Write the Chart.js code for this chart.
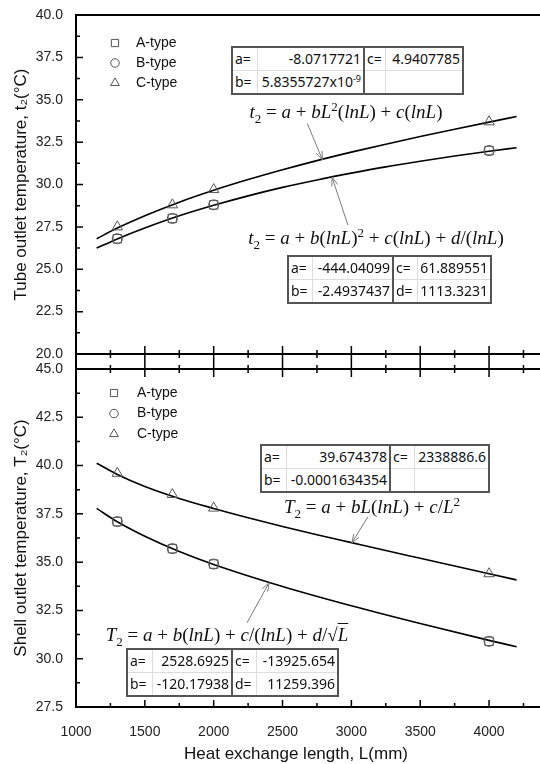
<!DOCTYPE html>
<html>
<head>
<meta charset="utf-8">
<script src="https://cdn.jsdelivr.net/npm/chart.js@4.4.1/dist/chart.umd.min.js"></script>
<style>
  html, body { margin: 0; padding: 0; background: #fff; }
  #wrap { position: relative; width: 540px; height: 764px; overflow: hidden; }
  canvas { position: absolute; left: 0; }
  #tube { top: 0; }
  #shell { top: 361px; }
  .tbl { position: absolute; border-collapse: collapse; table-layout: fixed; border: 2px solid #555;
         font-family: "Noto Sans", sans-serif; font-size: 14px; color: #111; background: #fff; z-index: 2; }
  .tbl td { border: 1px solid #dcdcdc; height: 22px; padding: 0 2px; white-space: nowrap; overflow: hidden; line-height: 22px; }
  .tbl td.v { text-align: right; }
  .tbl td.mid { border-right: 2px solid #555; }
  .tbl sup { font-size: 9px; line-height: 0; vertical-align: 5px; }
  .eq { position: absolute; font-family: "Liberation Serif", serif; font-size: 19px; white-space: nowrap;
        transform: translate(-50%, -50%); color: #111; z-index: 2; }
  .eq sub, .eq sup { font-size: 13px; line-height: 0; }
  .ov { text-decoration: overline; }
</style>
</head>
<body>
<div id="wrap">
  <canvas id="tube" width="540" height="364"></canvas>
  <canvas id="shell" width="540" height="403"></canvas>

  <table class="tbl" style="left:231px;top:46px;width:231px">
    <colgroup><col style="width:25px"><col style="width:107px"><col style="width:21px"><col style="width:78px"></colgroup>
    <tr><td>a=</td><td class="v mid">-8.0717721</td><td>c=</td><td class="v">4.9407785</td></tr>
    <tr><td>b=</td><td class="v mid">5.8355727x10<sup>-9</sup></td><td></td><td></td></tr>
  </table>
  <div class="eq" style="left:346px;top:112px"><i>t</i><sub>2</sub> = <i>a</i> + <i>bL</i><sup>2</sup>(<i>lnL</i>) + <i>c</i>(<i>lnL</i>)</div>

  <div class="eq" style="left:376px;top:238px"><i>t</i><sub>2</sub> = <i>a</i> + <i>b</i>(<i>lnL</i>)<sup>2</sup> + <i>c</i>(<i>lnL</i>) + <i>d</i>/(<i>lnL</i>)</div>
  <table class="tbl" style="left:287px;top:255px;width:203px">
    <colgroup><col style="width:24px"><col style="width:81px"><col style="width:24px"><col style="width:74px"></colgroup>
    <tr><td>a=</td><td class="v mid">-444.04099</td><td>c=</td><td class="v">61.889551</td></tr>
    <tr><td>b=</td><td class="v mid">-2.4937437</td><td>d=</td><td class="v">1113.3231</td></tr>
  </table>

  <table class="tbl" style="left:260px;top:444px;width:228px">
    <colgroup><col style="width:25px"><col style="width:104px"><col style="width:24px"><col style="width:75px"></colgroup>
    <tr><td>a=</td><td class="v mid">39.674378</td><td>c=</td><td class="v">2338886.6</td></tr>
    <tr><td>b=</td><td class="v mid">-0.0001634354</td><td></td><td></td></tr>
  </table>
  <div class="eq" style="left:372px;top:507px"><i>T</i><sub>2</sub> = <i>a</i> + <i>bL</i>(<i>lnL</i>) + <i>c</i>/<i>L</i><sup>2</sup></div>

  <div class="eq" style="left:227px;top:635px"><i>T</i><sub>2</sub> = <i>a</i> + <i>b</i>(<i>lnL</i>) + <i>c</i>/(<i>lnL</i>) + <i>d</i>/√<span class="ov"><i>L</i></span></div>
  <table class="tbl" style="left:126px;top:648px;width:211px">
    <colgroup><col style="width:25px"><col style="width:80px"><col style="width:24px"><col style="width:82px"></colgroup>
    <tr><td>a=</td><td class="v mid">2528.6925</td><td>c=</td><td class="v">-13925.654</td></tr>
    <tr><td>b=</td><td class="v mid">-120.17938</td><td>d=</td><td class="v">11259.396</td></tr>
  </table>
</div>

<script>
// measured points
const lengths = [1300, 1700, 2000, 4000];
const tubeA = [26.8, 28.0, 28.8, 32.0];
const tubeB = [26.8, 28.0, 28.8, 32.0];
const tubeC = [27.5, 28.8, 29.7, 33.7];
const shellA = [37.1, 35.7, 34.9, 30.9];
const shellB = [37.1, 35.7, 34.9, 30.9];
const shellC = [39.6, 38.5, 37.8, 34.4];

// fitted curves
const fitL = [1150, 1300, 1500, 1750, 2000, 2250, 2500, 2750, 3000, 3250, 3500, 3750, 4000, 4200];
const tubeFitC = [26.80, 27.43, 28.16, 28.96, 29.66, 30.29, 30.87, 31.41, 31.91, 32.38, 32.83, 33.26, 33.68, 34.01];
const tubeFitAB = [26.25, 26.79, 27.43, 28.15, 28.77, 29.33, 29.83, 30.27, 30.67, 31.04, 31.37, 31.68, 31.96, 32.17];
const shellFitC = [40.12, 39.54, 38.92, 38.30, 37.78, 37.30, 36.85, 36.42, 36.01, 35.60, 35.20, 34.80, 34.40, 34.08];
const shellFitL = [1150, 1300, 1500, 1750, 2000, 2500, 3000, 3500, 4000, 4200];
const shellFitAB = [37.78, 37.09, 36.34, 35.55, 34.88, 33.74, 32.74, 31.82, 30.95, 30.62];

// axis ticks
const lengthTicks = [1000, 1500, 2000, 2500, 3000, 3500, 4000];
const tubeTicks = [20, 22.5, 25, 27.5, 30, 32.5, 35, 37.5, 40];
const shellTicks = [27.5, 30, 32.5, 35, 37.5, 40, 42.5, 45];
const typeNames = ["A-type", "B-type", "C-type"];

Chart.defaults.font.family = '"Liberation Sans", Arial, sans-serif';
Chart.defaults.font.size = 14;
Chart.defaults.color = "#222";

function pts(xs, ys) {
  return xs.map(function (x, i) { return { x: x, y: ys[i] }; });
}

function markers(label, style, r, xs, ys) {
  return {
    label: label, data: pts(xs, ys), showLine: false,
    pointStyle: style, pointRadius: r, pointHoverRadius: r,
    pointBorderColor: "#555", pointBackgroundColor: "rgba(0,0,0,0)", pointBorderWidth: 1
  };
}

function curve(xs, ys) {
  return {
    label: "fit", data: pts(xs, ys), showLine: true, fill: false,
    borderColor: "#000", borderWidth: 1.6, pointRadius: 0,
    cubicInterpolationMode: "monotone"
  };
}

function yAxis(ticks, title) {
  return {
    type: "linear", position: "left", min: ticks[0], max: ticks[ticks.length - 1],
    afterBuildTicks: function (s) { s.ticks = ticks.map(function (v) { return { value: v }; }); },
    afterFit: function (s) { s.width = 76; s.paddingTop = 0; s.paddingBottom = 0; },
    grid: { display: false },
    border: { color: "#000", width: 2 },
    ticks: { padding: 5, color: "#222", callback: function (v) { return v.toFixed(1); } },
    title: { display: true, text: title, color: "#111", font: { size: 17 }, padding: { top: 11, bottom: 0 } }
  };
}

function xAxis(height, showLabels) {
  return {
    type: "linear", min: 1000, max: 4370,
    afterBuildTicks: function (s) { s.ticks = lengthTicks.map(function (v) { return { value: v }; }); },
    afterFit: function (s) { s.height = height; s.paddingLeft = 0; s.paddingRight = 0; },
    grid: { display: false },
    border: { color: "#000", width: 2 },
    ticks: { display: showLabels, padding: 9, color: "#222", callback: function (v) { return String(v); } }
  };
}

// ticks, broken axis, legend, arrows, x title
const decor = {
  id: "decor",
  afterDraw: function (chart, args, o) {
    const ctx = chart.ctx, a = chart.chartArea, x = chart.scales.x, y = chart.scales.y;
    const H = chart.height;
    ctx.save();
    ctx.strokeStyle = "#000";
    ctx.lineWidth = 1.5;
    ctx.beginPath();
    const yv = y.ticks.map(function (t) { return t.value; });
    yv.forEach(function (v, i) {
      const p = y.getPixelForValue(v);
      ctx.moveTo(a.left, p); ctx.lineTo(a.left + 7, p);
      if (i < yv.length - 1) {
        const m = y.getPixelForValue((v + yv[i + 1]) / 2);
        ctx.moveTo(a.left, m); ctx.lineTo(a.left + 4, m);
      }
    });
    const xv = x.ticks.map(function (t) { return t.value; });
    const step = xv[1] - xv[0];
    const minor = xv.map(function (v) { return v + step / 2; }).filter(function (v) { return v < x.max; });
    if (o.panel === "top") {
      xv.forEach(function (v) {
        const p = x.getPixelForValue(v);
        ctx.moveTo(p, a.bottom - 8); ctx.lineTo(p, a.bottom + 7);
      });
      minor.forEach(function (v) {
        const p = x.getPixelForValue(v);
        ctx.moveTo(p, a.bottom - 4); ctx.lineTo(p, a.bottom + 4);
      });
    } else {
      xv.forEach(function (v) {
        const p = x.getPixelForValue(v);
        ctx.moveTo(p, 0); ctx.lineTo(p, a.top + 8);
        ctx.moveTo(p, a.bottom); ctx.lineTo(p, a.bottom - 7);
      });
      minor.forEach(function (v) {
        const p = x.getPixelForValue(v);
        ctx.moveTo(p, a.top - 4); ctx.lineTo(p, a.top + 4);
        ctx.moveTo(p, a.bottom); ctx.lineTo(p, a.bottom - 4);
      });
    }
    ctx.stroke();

    // frame lines
    ctx.lineWidth = 2;
    ctx.beginPath();
    ctx.moveTo(a.left, a.top); ctx.lineTo(chart.width, a.top);
    if (o.panel === "top") { ctx.moveTo(a.left, a.bottom); ctx.lineTo(a.left, a.bottom + 7); }
    else { ctx.moveTo(a.left, 0); ctx.lineTo(a.left, a.top); }
    ctx.stroke();

    // arrows
    ctx.strokeStyle = "#7a7a7a";
    ctx.lineWidth = 1;
    o.arrows.forEach(function (ar) {
      const x0 = x.getPixelForValue(ar.from[0]), y0 = y.getPixelForValue(ar.from[1]);
      const x1 = x.getPixelForValue(ar.to[0]), y1 = y.getPixelForValue(ar.to[1]);
      const ang = Math.atan2(y1 - y0, x1 - x0);
      ctx.beginPath();
      ctx.moveTo(x0, y0); ctx.lineTo(x1, y1);
      ctx.moveTo(x1 - 9 * Math.cos(ang - 0.35), y1 - 9 * Math.sin(ang - 0.35));
      ctx.lineTo(x1, y1);
      ctx.lineTo(x1 - 9 * Math.cos(ang + 0.35), y1 - 9 * Math.sin(ang + 0.35));
      ctx.stroke();
    });

    // legend
    let k = 0;
    ctx.font = '14px "Liberation Sans", Arial, sans-serif';
    ctx.textBaseline = "middle";
    ctx.textAlign = "left";
    chart.data.datasets.forEach(function (ds) {
      if (ds.showLine) return;
      const ly = a.top + o.legend.y + k * o.legend.gap;
      const mx = a.left + o.legend.x;
      ctx.strokeStyle = "#555";
      ctx.fillStyle = "rgba(0,0,0,0)";
      ctx.lineWidth = 1;
      if (Chart.helpers && Chart.helpers.drawPoint) {
        Chart.helpers.drawPoint(ctx, { pointStyle: ds.pointStyle, radius: ds.pointRadius * 0.85, rotation: 0, borderWidth: 1 }, mx, ly);
      }
      ctx.fillStyle = "#111";
      ctx.fillText(ds.label, mx + o.legend.text, ly);
      k++;
    });

    if (o.xTitle) {
      ctx.font = '17px "Liberation Sans", Arial, sans-serif';
      ctx.textAlign = "center";
      ctx.fillStyle = "#111";
      ctx.fillText(o.xTitle, a.left + 220, H - 10);
    }
    ctx.restore();
  }
};

new Chart("tube", {
  type: "scatter",
  data: {
    datasets: [
      markers(typeNames[0], "rect", 6, lengths, tubeA),
      markers(typeNames[1], "circle", 5, lengths, tubeB),
      markers(typeNames[2], "triangle", 6, lengths, tubeC),
      curve(fitL, tubeFitC),
      curve(fitL, tubeFitAB)
    ]
  },
  options: {
    responsive: false, animation: false, devicePixelRatio: 1,
    layout: { autoPadding: false, padding: { top: 15, left: 0, right: 0, bottom: 0 } },
    scales: {
      x: xAxis(10, false),
      y: yAxis(tubeTicks, "Tube outlet temperature, t\u2082(\u00B0C)")
    },
    plugins: {
      legend: { display: false },
      tooltip: { enabled: false },
      decor: {
        panel: "top",
        legend: { x: 39, y: 28, gap: 20, text: 21 },
        arrows: [
          { from: [2680, 33.6], to: [2790, 31.45] },
          { from: [2975, 27.6], to: [2860, 30.42] }
        ]
      }
    }
  },
  plugins: [decor]
});

new Chart("shell", {
  type: "scatter",
  data: {
    datasets: [
      markers(typeNames[0], "rect", 6, lengths, shellA),
      markers(typeNames[1], "circle", 5, lengths, shellB),
      markers(typeNames[2], "triangle", 6, lengths, shellC),
      curve(fitL, shellFitC),
      curve(shellFitL, shellFitAB)
    ]
  },
  options: {
    responsive: false, animation: false, devicePixelRatio: 1,
    layout: { autoPadding: false, padding: { top: 8, left: 0, right: 0, bottom: 0 } },
    scales: {
      x: xAxis(57, true),
      y: yAxis(shellTicks, "Shell outlet temperature, T\u2082(\u00B0C)")
    },
    plugins: {
      legend: { display: false },
      tooltip: { enabled: false },
      decor: {
        panel: "bottom",
        xTitle: "Heat exchange length, L(mm)",
        legend: { x: 38, y: 24, gap: 20.5, text: 23 },
        arrows: [
          { from: [3120, 37.35], to: [3004, 36.0] },
          { from: [2242, 31.86], to: [2402, 33.93] }
        ]
      }
    }
  },
  plugins: [decor]
});
</script>
</body>
</html>
